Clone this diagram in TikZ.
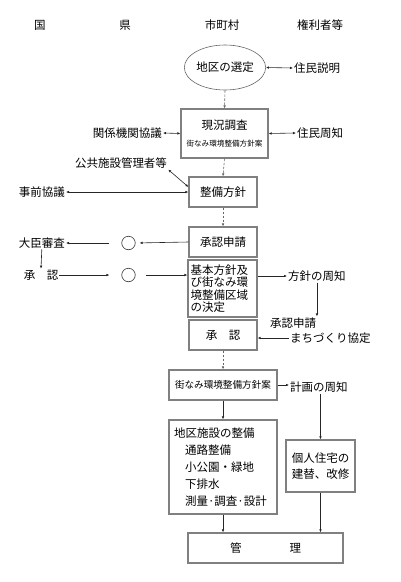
\documentclass[tikz,border=0pt]{standalone}
\usepackage{fontspec}
\setmainfont{Noto Sans CJK JP}
\usepackage{tikz}
\usetikzlibrary{shapes}
\usetikzlibrary{arrows.meta}
\usetikzlibrary{calc}
\tikzstyle{box}=[draw=black!50, line width=1.2pt, rectangle, inner sep=0pt, align=center]
\tikzstyle{lbl}=[inner sep=1pt]
\tikzstyle{arr}=[-{Latex[length=3pt,width=2.6pt]}, line width=0.6pt, black!85]
\tikzstyle{darr}=[{Latex[length=3pt,width=2.6pt]}-{Latex[length=3pt,width=2.6pt]}, line width=0.6pt, black!85]
\tikzstyle{dasharr}=[-{Latex[length=3pt,width=2.6pt]}, line width=0.6pt, black!60, dash pattern=on 2.5pt off 1.5pt]
\tikzstyle{ring}=[draw=black!80, line width=0.6pt, circle, minimum size=13.5pt, inner sep=0pt]
\newcommand{\smallA}{\fontsize{7.6}{9}\selectfont}
\newcommand{\smallB}{\fontsize{9.6}{11}\selectfont}
\begin{document}
\begin{tikzpicture}[x=1pt,y=-1pt,font=\fontsize{11.5}{12.5}\selectfont]
\useasboundingbox (0,0) rectangle (400,582);
% column heads
\node (h1) at (40,25) {国};
\node (h2) at (125,25) {県};
\node (h3) at (222,25) {市町村};
\node (h4) at (320,25) {権利者等};
% main column
\node[draw=black!60, line width=0.6pt, ellipse, minimum width=78pt, minimum height=45pt, inner sep=0pt] (e1) at (225,67.5) {地区の選定};
\node[box, minimum width=87pt, minimum height=49pt] (b1) at (224.5,133.5) {現況調査\\[5pt]{\smallA 街なみ環境整備方針案}};
\node[box, minimum width=68pt, minimum height=30pt] (b2) at (223,192) {整備方針};
\node[box, minimum width=68pt, minimum height=30pt] (b3) at (223,242) {承認申請};
\node[box, minimum width=69pt, minimum height=57pt, text width=64pt, align=left, font=\fontsize{11.5}{12.3}\selectfont] (b4) at (222.5,288.5) {基本方針及\\び街なみ環\\境整備区域\\の決定};
\node[box, minimum width=68pt, minimum height=30pt] (b5) at (223,335) {承　認};
\node[box, minimum width=108pt, minimum height=30pt] (b6) at (223,385) {\smallB 街なみ環境整備方針案};
\node[box, minimum width=108pt, minimum height=94pt, text width=98pt, align=left, font=\fontsize{11.5}{17}\selectfont] (b7) at (223,467) {地区施設の整備\\\hspace*{11pt}通路整備\\\hspace*{11pt}小公園・緑地\\\hspace*{11pt}下排水\\\hspace*{11pt}測量·調査·設計};
\node[box, minimum width=69pt, minimum height=52pt, font=\fontsize{11.5}{16}\selectfont] (b8) at (320.5,466) {個人住宅の\\建替、改修};
\node[box, minimum width=155pt, minimum height=30pt] (b9) at (265.5,548) {管\hspace{48pt}理};
% left side
\node[lbl, anchor=east] (t2) at (163,133) {関係機関協議};
\node[lbl] (t4) at (121,163) {公共施設管理者等};
\node[lbl, anchor=east] (t5) at (66,192) {事前協議};
\node[lbl, anchor=east] (t6) at (66,243) {大臣審査};
\node[lbl] (t7) at (41,275) {承　認};
\node[ring] (c1) at (128.5,243) {};
\node[ring] (c2) at (128.5,275) {};
% right side
\node[lbl, anchor=west] (t1) at (293,68) {住民説明};
\node[lbl, anchor=west] (t3) at (296,133) {住民周知};
\node[lbl, anchor=west] (t8) at (287,276) {方針の周知};
\node[lbl] (t9) at (293,323) {承認申請};
\node[lbl, anchor=west] (t10) at (289,338) {まちづくり協定};
\node[lbl, anchor=west] (t11) at (289,387) {計画の周知};
% connectors
\draw[darr] (e1.east) -- (t1.west);
\draw[dasharr] (e1.south) -- (b1.north);
\draw[darr] (t2.east) -- (b1.west);
\draw[darr] (b1.east) -- (t3.west);
\draw[dasharr] (b1.south) -- (b2.north);
\draw[darr] (t4.south east) -- ([yshift=5pt]b2.west);
\draw[darr] (t5.east) -- (b2.west);
\draw[dasharr] (b2.south) -- (b3.north);
\draw[arr, shorten >=4pt] (b3.west) -- (c1.east);
\draw[arr, shorten <=12pt] (c1.west) -- (t6.east);
\draw[arr] (t6.south) -- (t7.north);
\draw[arr, shorten >=12pt] (t7.east) -- (c2.west);
\draw[arr, shorten <=10pt] (c2.east) -- (b4.west |- c2.east);
\draw[arr] (t8.west -| b4.east) -- (t8.west);
\draw[arr] (t8.south) -- (t8.south |- t9.north);
\draw[arr] (t10.west) -- (t10.west -| b5.east);
\draw[dasharr] (b5.south) -- (b6.north);
\draw[arr] (b6.east) -- (b6.east -| t11.west);
\draw[arr] (t11.south -| b8.north) -- (b8.north);
\draw[arr] (b6.south) -- (b7.north);
\draw[arr] (b7.south) -- (b7.south |- b9.north);
\draw[arr] (b8.south) -- (b8.south |- b9.north);
\end{tikzpicture}
\end{document}
